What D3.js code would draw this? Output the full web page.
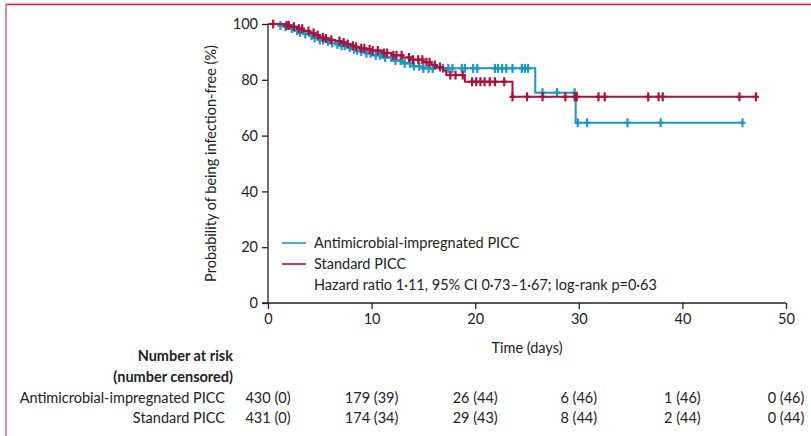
<!DOCTYPE html>
<html>
<head>
<meta charset="utf-8">
<script src="https://cdn.jsdelivr.net/npm/d3@7"></script>
<style>
  body { margin: 0; background: #fff; }
  text { font-family: Lato, "Noto Sans", sans-serif; fill: #222; }
</style>
</head>
<body>
<div id="km-chart"></div>
<script>
// Kaplan-Meier steps (days, % infection-free)
const antiTimes = [0, 1.0, 1.5, 2.0, 2.6, 3.0, 3.5, 4.0, 4.5, 5.0, 5.5, 6.0, 6.5, 7.0, 7.6, 8.0, 8.6, 9.0, 9.5, 10.0, 11.0, 12.0, 13.0, 14.0, 15.0, 25.8, 29.7, 45.8];
const antiSurv  = [100, 99.5, 99.0, 98.4, 97.6, 97.0, 96.4, 95.8, 95.0, 94.3, 93.8, 93.2, 92.7, 92.2, 91.6, 91.0, 90.6, 90.1, 89.5, 88.8, 88.0, 86.9, 85.9, 84.9, 84.1, 75.4, 64.6, 64.6];
const antiCensor = [1.2, 1.7, 2.3, 2.8, 3.1, 3.6, 4.2, 4.5, 5.0, 5.3, 5.8, 6.2, 6.7, 7.1, 7.4, 7.9, 8.3, 8.6, 9.0, 9.5, 9.9,
  10.4, 10.8, 11.3, 11.9, 12.3, 12.8, 13.2, 13.7, 14.1, 14.6, 15.0, 15.5, 15.9,
  16.9, 17.4, 17.8, 18.7, 19.0, 19.8, 20.2, 21.9, 22.2, 22.6, 23.0, 23.6, 24.5, 24.8, 25.1,
  26.5, 27.9, 29.6, 29.9, 30.8, 34.7, 37.9, 45.8];

const stdTimes = [0, 1.6, 2.2, 2.8, 3.4, 4.0, 4.5, 5.0, 5.5, 6.0, 6.5, 7.0, 7.5, 8.0, 8.5, 9.0, 9.5, 10.0, 11.0, 12.0, 13.0, 14.0, 15.0, 15.8, 16.3, 16.9, 17.2, 19.0, 23.6, 47.1];
const stdSurv  = [100, 99.5, 99.0, 98.3, 97.5, 96.8, 96.0, 95.2, 94.8, 94.3, 93.9, 93.4, 92.8, 92.2, 91.8, 91.3, 90.9, 90.5, 89.6, 88.8, 88.0, 87.2, 86.3, 85.3, 84.6, 83.3, 81.7, 79.3, 73.9, 73.9];
const stdCensor = [0.5, 1.8, 2.0, 2.5, 3.0, 3.3, 3.9, 4.4, 4.8, 5.3, 5.6, 6.1, 6.9, 7.3, 7.7, 8.2, 8.5, 9.0, 9.3, 9.8,
  10.1, 10.6, 11.2, 11.5, 12.1, 12.4, 12.9, 13.6, 14.0, 14.5, 14.9, 15.3, 15.6, 16.1, 16.6,
  17.6, 18.1, 18.8, 19.7, 20.1, 20.5, 20.9, 21.4, 21.9, 22.8,
  23.6, 25.0, 26.5, 28.7, 29.6, 29.8, 31.9, 32.5, 36.7, 37.7, 38.1, 45.5, 47.1];

const xTicks = [0, 10, 20, 30, 40, 50];
const yTicks = [0, 20, 40, 60, 80, 100];

const seriesNames = ["Antimicrobial-impregnated PICC", "Standard PICC"];
const statsLabel = "Hazard ratio 1·11, 95% CI 0·73–1·67; log-rank p=0·63";

const riskTimes = [0, 10, 20, 30, 40, 50];
const antiRisk = ["430 (0)", "179 (39)", "26 (44)", "6 (46)", "1 (46)", "0 (46)"];
const stdRisk  = ["431 (0)", "174 (34)", "29 (43)", "8 (44)", "2 (44)", "0 (44)"];

const blue = "#1b97c4";
const red = "#a8123f";

function drawChart() {
    const W = 811, H = 436;
    const margin = { top: 24, right: 25, bottom: 133, left: 268 };
    const width = W - margin.left - margin.right;
    const height = H - margin.top - margin.bottom;

    const root = d3.select("#km-chart").append("svg")
        .attr("width", W)
        .attr("height", H);

    // page frame
    root.append("line").attr("x1", 5).attr("x2", W).attr("y1", 3).attr("y2", 3)
        .attr("stroke", "#d8d8d8").attr("stroke-width", 1);
    root.append("line").attr("x1", 5).attr("x2", W).attr("y1", 4.5).attr("y2", 4.5)
        .attr("stroke", "#c8234e").attr("stroke-width", 1.6);
    root.append("line").attr("x1", 6).attr("x2", 6).attr("y1", 4).attr("y2", H)
        .attr("stroke", "#e48aa1").attr("stroke-width", 2);

    const svg = root.append("g")
        .attr("transform", `translate(${margin.left},${margin.top})`);

    const x = d3.scaleLinear().domain([0, 50]).range([0, width]);
    const y = d3.scaleLinear().domain([0, 100]).range([height, 0]);

    // axes
    const yAxis = svg.append("g")
        .call(d3.axisLeft(y).tickValues(yTicks).tickSize(6).tickPadding(4));
    const xAxis = svg.append("g")
        .attr("transform", `translate(0,${height})`)
        .call(d3.axisBottom(x).tickValues(xTicks).tickSize(6).tickPadding(5));
    [xAxis, yAxis].forEach(a => {
        a.select(".domain").attr("stroke", "#222").attr("stroke-width", 1.3);
        a.selectAll(".tick line").attr("stroke", "#222").attr("stroke-width", 1.3);
        a.selectAll("text").style("font-family", "Lato, sans-serif").style("font-size", "14.5px").attr("fill", "#222");
    });
    yAxis.select(".domain").attr("d", `M0,0V${height}`);
    xAxis.select(".domain").attr("d", `M-6,0H${width}`);

    svg.append("text")
        .attr("transform", `translate(-52,${height / 2}) rotate(-90)`)
        .attr("text-anchor", "middle")
        .style("font-size", "14.5px")
        .text("Probability of being infection-free (%)");

    svg.append("text")
        .attr("x", x(25))
        .attr("y", height + 50)
        .attr("text-anchor", "middle")
        .style("font-size", "14.5px")
        .text("Time (days)");

    // curves
    const line = d3.line()
        .x(d => x(d[0]))
        .y(d => y(d[1]))
        .curve(d3.curveStepAfter);

    const series = [
        { times: antiTimes, surv: antiSurv, censor: antiCensor, color: blue },
        { times: stdTimes, surv: stdSurv, censor: stdCensor, color: red }
    ];

    series.forEach(s => {
        const pts = s.times.map((t, i) => [t, s.surv[i]]);
        svg.append("path")
            .datum(pts)
            .attr("fill", "none")
            .attr("stroke", s.color)
            .attr("stroke-width", 2)
            .attr("d", line);

        const bis = d3.bisector(d => d).right;
        const survAt = t => s.surv[Math.max(0, bis(s.times, t) - 1)];

        svg.selectAll(null)
            .data(s.censor)
            .enter().append("line")
            .attr("x1", d => x(d)).attr("x2", d => x(d))
            .attr("y1", d => y(survAt(d)) - 4.5)
            .attr("y2", d => y(survAt(d)) + 4.5)
            .attr("stroke", s.color)
            .attr("stroke-width", 2.2);
        svg.selectAll(null)
            .data(s.censor)
            .enter().append("line")
            .attr("x1", d => x(d) - 3).attr("x2", d => x(d) + 3)
            .attr("y1", d => y(survAt(d)))
            .attr("y2", d => y(survAt(d)))
            .attr("stroke", s.color)
            .attr("stroke-width", 2.2);
    });

    // legend
    const legend = svg.append("g").attr("transform", `translate(${x(1.35)},${y(21.5)})`);
    [blue, red].forEach((c, i) => {
        legend.append("line")
            .attr("x1", 0).attr("x2", 24)
            .attr("y1", i * 21).attr("y2", i * 21)
            .attr("stroke", c).attr("stroke-width", 1.6);
        legend.append("text")
            .attr("x", 32).attr("y", i * 21)
            .attr("dy", "0.35em")
            .style("font-size", "14.5px")
            .text(seriesNames[i]);
    });
    legend.append("text")
        .attr("x", 32).attr("y", 42)
        .attr("dy", "0.35em")
        .style("font-size", "14.5px")
        .text(statsLabel);

    // number at risk table
    const table = svg.append("g").attr("transform", `translate(0,${height})`);
    table.append("text")
        .attr("x", -35).attr("y", 53).attr("dy", "0.35em")
        .attr("text-anchor", "end")
        .style("font-size", "14.5px").style("font-weight", "bold")
        .text("Number at risk");
    table.append("text")
        .attr("x", -35).attr("y", 74).attr("dy", "0.35em")
        .attr("text-anchor", "end")
        .style("font-size", "14.5px").style("font-weight", "bold")
        .text("(number censored)");

    [antiRisk, stdRisk].forEach((row, i) => {
        const yy = 95 + i * 20;
        table.append("text")
            .attr("x", -43).attr("y", yy).attr("dy", "0.35em")
            .attr("text-anchor", "end")
            .style("font-size", "14.5px")
            .text(seriesNames[i]);
        table.selectAll(null)
            .data(row)
            .enter().append("text")
            .attr("x", (d, j) => x(riskTimes[j]))
            .attr("y", yy).attr("dy", "0.35em")
            .attr("text-anchor", "middle")
            .style("font-size", "14.5px")
            .text(d => d);
    });
}

drawChart();
</script>
</body>
</html>
